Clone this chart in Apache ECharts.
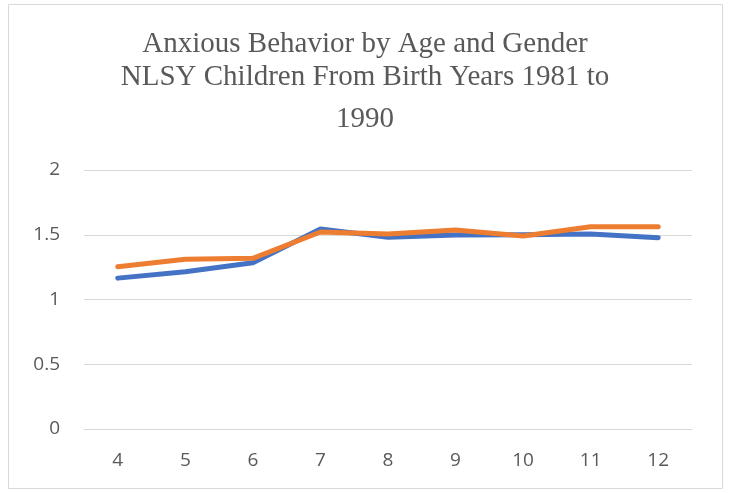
<!DOCTYPE html>
<html><head><meta charset="utf-8">
<script src="https://cdn.jsdelivr.net/npm/echarts@6/dist/echarts.min.js"></script>
<style>html,body{margin:0;padding:0;background:#fff}#c{width:730px;height:493px}</style>
</head><body><div id="c"></div>
<script>
const ages = ['4','5','6','7','8','9','10','11','12'];
const seriesA = [1.165, 1.215, 1.284, 1.544, 1.48, 1.498, 1.50, 1.506, 1.477];
const seriesB = [1.253, 1.31, 1.318, 1.521, 1.506, 1.537, 1.49, 1.562, 1.562];
const yTicks = [0, 0.5, 1, 1.5, 2];
const titleLines = ['Anxious Behavior by Age and Gender', 'NLSY Children From Birth Years 1981 to', '1990'];

const chart = echarts.init(document.getElementById('c'));
const tStyle = {fontFamily: 'Liberation Serif', fontSize: 29, color: '#595959', fontWeight: 'normal'};
chart.setOption({
  animation: false,
  graphic: [{type: 'rect', shape: {x: 8.5, y: 4.5, width: 714, height: 484}, style: {fill: 'none', stroke: '#d9d9d9', lineWidth: 1}}],
  title: [
    {text: titleLines[0], left: 'center', top: 30, padding: 0, textStyle: tStyle},
    {text: titleLines[1], left: 'center', top: 63, padding: 0, textStyle: tStyle},
    {text: titleLines[2], left: 'center', top: 105, padding: 0, textStyle: tStyle}
  ],
  grid: {left: 84, right: 38, top: 170, bottom: 64},
  xAxis: {
    type: 'category', data: ages, boundaryGap: true,
    axisLine: {lineStyle: {color: '#d9d9d9'}}, axisTick: {show: false},
    axisLabel: {color: '#595959', fontSize: 19, fontFamily: 'Open Sans', margin: 22}
  },
  yAxis: {
    type: 'value', min: yTicks[0], max: yTicks[yTicks.length-1], interval: 0.5,
    axisLine: {show: false}, axisTick: {show: false},
    splitLine: {lineStyle: {color: '#d9d9d9', width: 1}},
    axisLabel: {color: '#595959', fontSize: 19, fontFamily: 'Open Sans', margin: 24}
  },
  series: [
    {type: 'line', data: seriesA, symbol: 'none', lineStyle: {color: '#4472C4', width: 5, cap: 'round', join: 'round'}},
    {type: 'line', data: seriesB, symbol: 'none', lineStyle: {color: '#ED7D31', width: 5, cap: 'round', join: 'round'}}
  ]
});
</script></body></html>
